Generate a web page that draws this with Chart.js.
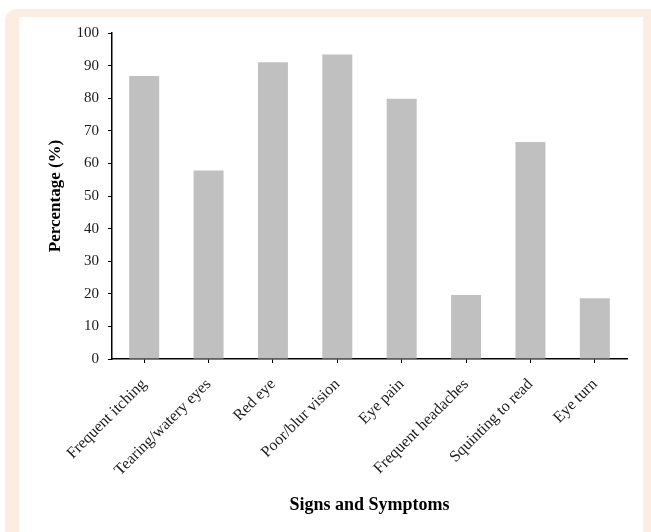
<!DOCTYPE html>
<html>
<head>
<meta charset="utf-8">
<script src="https://cdn.jsdelivr.net/npm/chart.js@4/dist/chart.umd.min.js"></script>
<style>
  html, body { margin: 0; padding: 0; background: #ffffff; }
  #wrap { position: relative; width: 651px; height: 532px; overflow: hidden; }
  #frame { position: absolute; left: 5px; top: 9px; width: 660px; height: 540px;
           background: #fcede3; border-top-left-radius: 12px; }
  #panel { position: absolute; left: 19px; top: 17px; width: 624px; height: 530px; background: #ffffff; }
  #chart { position: absolute; left: 0; top: 0; }
</style>
</head>
<body>
<div id="wrap">
  <div id="frame"></div>
  <div id="panel"></div>
  <canvas id="chart" width="651" height="532"></canvas>
</div>
<script>
// Share of respondents reporting each sign or symptom
const symptoms = [
  'Frequent itching', 'Tearing/watery eyes', 'Red eye', 'Poor/blur vision',
  'Eye pain', 'Frequent headaches', 'Squinting to read', 'Eye turn'
];
const percentages = [86.8, 57.8, 91.0, 93.4, 79.8, 19.6, 66.6, 18.6];
const yTicks = [0, 10, 20, 30, 40, 50, 60, 70, 80, 90, 100];

const serif = '"Liberation Serif", "Times New Roman", serif';

new Chart(document.getElementById('chart'), {
  type: 'bar',
  data: {
    labels: symptoms,
    datasets: [{
      data: percentages,
      backgroundColor: '#c0c0c0',
      borderWidth: 0,
      categoryPercentage: 1.0,
      barPercentage: 0.466
    }]
  },
  options: {
    responsive: false,
    animation: false,
    devicePixelRatio: 1,
    layout: { padding: { left: 0, right: 24, top: 33, bottom: 0 } },
    plugins: { legend: { display: false }, tooltip: { enabled: false } },
    scales: {
      x: {
        offset: true,
        grid: { offset: false, drawOnChartArea: false, drawTicks: true, tickLength: 4, color: '#000000' },
        border: { display: true, color: '#000000', width: 1.5 },
        ticks: {
          autoSkip: false, maxRotation: 45, minRotation: 45, padding: 12,
          color: '#1a1a1a', font: { family: serif, size: 16 }
        },
        title: {
          display: true, text: 'Signs and Symptoms', color: '#000000',
          font: { family: serif, size: 18, weight: 'bold' },
          padding: { top: 0, bottom: 16 }
        },
        afterFit: (scale) => { scale.height = 173; }
      },
      y: {
        min: 0, max: 100,
        afterBuildTicks: (scale) => { scale.ticks = yTicks.map(v => ({ value: v })); },
        grid: { drawOnChartArea: false, drawTicks: true, tickLength: 4, color: '#000000' },
        border: { display: true, color: '#000000', width: 1.5 },
        ticks: { padding: 9, color: '#1a1a1a', font: { family: serif, size: 15 } },
        title: {
          display: true, text: 'Percentage (%)', color: '#000000',
          font: { family: serif, size: 17, weight: 'bold' },
          padding: { top: 45, bottom: 0 }
        },
        afterFit: (scale) => { scale.width = 112; }
      }
    }
  }
});
</script>
</body>
</html>
